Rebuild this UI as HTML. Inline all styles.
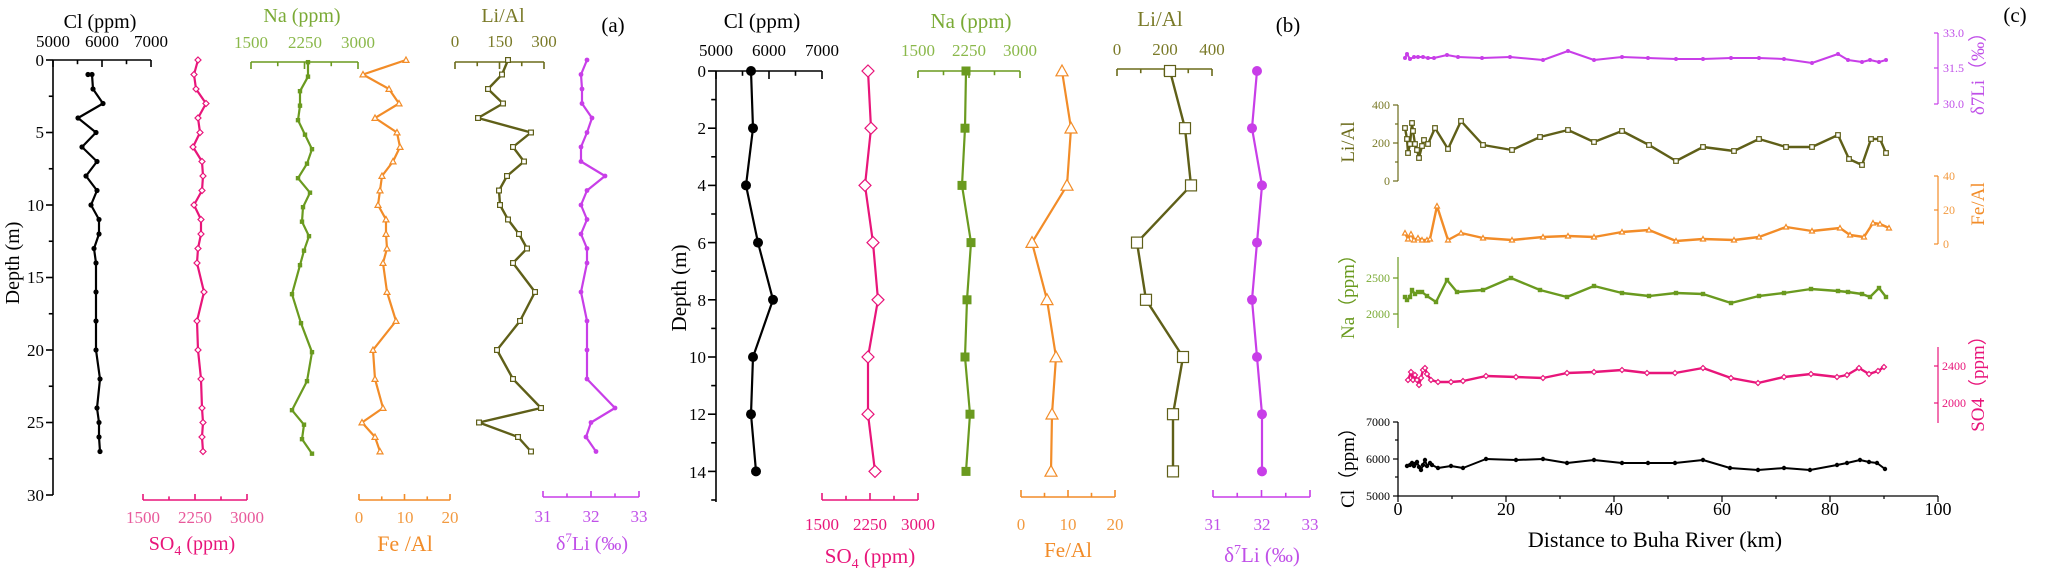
<!DOCTYPE html>
<html><head><meta charset="utf-8"><style>
html,body{margin:0;padding:0;background:#fff;}
svg{display:block;font-family:"Liberation Serif",serif;}
</style></head><body>
<svg id="s" width="2048" height="572" viewBox="0 0 2048 572" xmlns="http://www.w3.org/2000/svg">
<g id="ax" fill="none" stroke-width="1.6"></g>
<g id="data"></g>
<g font-size="17">
<!-- Panel a -->
<text x="100" y="28" text-anchor="middle" font-size="20">Cl (ppm)</text>
<text x="53" y="47" text-anchor="middle">5000</text><text x="102" y="47" text-anchor="middle">6000</text><text x="151" y="47" text-anchor="middle">7000</text>
<g text-anchor="end" font-size="17"><text x="44" y="66">0</text><text x="44" y="138">5</text><text x="44" y="211">10</text><text x="44" y="283">15</text><text x="44" y="356">20</text><text x="44" y="428">25</text><text x="44" y="501">30</text></g>
<text transform="translate(19,263) rotate(-90)" text-anchor="middle" font-size="20">Depth (m)</text>
<g fill="#e8589a" text-anchor="middle"><text x="143" y="523">1500</text><text x="195" y="523">2250</text><text x="247" y="523">3000</text></g>
<text x="192" y="550" text-anchor="middle" font-size="20" fill="#e8157a">SO<tspan font-size="14" dy="5">4</tspan><tspan dy="-5"> (ppm)</tspan></text>
<text x="302" y="22" text-anchor="middle" font-size="20" fill="#7aaa35">Na (ppm)</text>
<g fill="#8ab84a" text-anchor="middle"><text x="251" y="48">1500</text><text x="305" y="48">2250</text><text x="358" y="48">3000</text></g>
<g fill="#f29a40" text-anchor="middle"><text x="359" y="523">0</text><text x="405" y="523">10</text><text x="450" y="523">20</text></g>
<text x="405" y="551" text-anchor="middle" font-size="22" fill="#f28c28">Fe /Al</text>
<text x="503" y="22" text-anchor="middle" font-size="20" fill="#7a7a28">Li/Al</text>
<g fill="#7a7a28" text-anchor="middle"><text x="455" y="47">0</text><text x="500" y="47">150</text><text x="544" y="47">300</text></g>
<g fill="#c050e8" text-anchor="middle"><text x="543" y="522">31</text><text x="591" y="522">32</text><text x="639" y="522">33</text></g>
<text x="592" y="550" text-anchor="middle" font-size="20" fill="#c050e8">δ<tspan font-size="13" dy="-8">7</tspan><tspan dy="8">Li (‰)</tspan></text>
<text x="613" y="32" text-anchor="middle" font-size="21">(a)</text>
<!-- Panel b -->
<text x="762" y="28" text-anchor="middle" font-size="21">Cl (ppm)</text>
<text x="716" y="56" text-anchor="middle">5000</text><text x="769" y="56" text-anchor="middle">6000</text><text x="822" y="56" text-anchor="middle">7000</text>
<g text-anchor="end"><text x="706" y="77">0</text><text x="706" y="134">2</text><text x="706" y="191">4</text><text x="706" y="249">6</text><text x="706" y="306">8</text><text x="706" y="363">10</text><text x="706" y="420">12</text><text x="706" y="478">14</text></g>
<text transform="translate(686,288) rotate(-90)" text-anchor="middle" font-size="21">Depth (m)</text>
<g fill="#e8157a" text-anchor="middle"><text x="822" y="530">1500</text><text x="870" y="530">2250</text><text x="918" y="530">3000</text></g>
<text x="870" y="563" text-anchor="middle" font-size="21" fill="#e8157a">SO<tspan font-size="14" dy="5">4</tspan><tspan dy="-5"> (ppm)</tspan></text>
<text x="971" y="28" text-anchor="middle" font-size="21" fill="#7aaa35">Na (ppm)</text>
<g fill="#8ab84a" text-anchor="middle"><text x="918" y="56">1500</text><text x="969" y="56">2250</text><text x="1020" y="56">3000</text></g>
<g fill="#f29a40" text-anchor="middle"><text x="1021" y="530">0</text><text x="1068" y="530">10</text><text x="1115" y="530">20</text></g>
<text x="1068" y="557" text-anchor="middle" font-size="21" fill="#f28c28">Fe/Al</text>
<text x="1160" y="26" text-anchor="middle" font-size="21" fill="#7a7a28">Li/Al</text>
<g fill="#7a7a28" text-anchor="middle"><text x="1117" y="55">0</text><text x="1165" y="55">200</text><text x="1212" y="55">400</text></g>
<g fill="#c050e8" text-anchor="middle"><text x="1213" y="530">31</text><text x="1262" y="530">32</text><text x="1310" y="530">33</text></g>
<text x="1262" y="562" text-anchor="middle" font-size="21" fill="#c050e8">δ<tspan font-size="14" dy="-8">7</tspan><tspan dy="8">Li (‰)</tspan></text>
<text x="1288" y="32" text-anchor="middle" font-size="21">(b)</text>
<!-- Panel c -->
<text x="2015" y="22" text-anchor="middle" font-size="21">(c)</text>
<g font-size="18" text-anchor="middle"><text x="1398" y="515">0</text><text x="1506" y="515">20</text><text x="1614" y="515">40</text><text x="1722" y="515">60</text><text x="1830" y="515">80</text><text x="1938" y="515">100</text></g>
<text x="1655" y="547" text-anchor="middle" font-size="22">Distance to Buha River (km)</text>
<g font-size="12" text-anchor="end"><text x="1390" y="426">7000</text><text x="1390" y="463">6000</text><text x="1390" y="500">5000</text></g>
<text transform="translate(1354,463) rotate(-90)" text-anchor="middle" font-size="19">Cl（ppm）</text>
<g font-size="12" text-anchor="end" fill="#7aaa35"><text x="1390" y="282">2500</text><text x="1390" y="318">2000</text></g>
<text transform="translate(1354,292) rotate(-90)" text-anchor="middle" font-size="19" fill="#6a9a1f">Na（ppm）</text>
<g font-size="12" text-anchor="end" fill="#7a7a28"><text x="1390" y="109">400</text><text x="1390" y="147">200</text><text x="1390" y="185">0</text></g>
<text transform="translate(1354,142) rotate(-90)" text-anchor="middle" font-size="19" fill="#6b6b1a">Li/Al</text>
<g font-size="12" fill="#c050e8"><text x="1943" y="37">33.0</text><text x="1943" y="72">31.5</text><text x="1943" y="108">30.0</text></g>
<text transform="translate(1984,69) rotate(-90)" text-anchor="middle" font-size="19" fill="#c050e8">δ7Li（‰）</text>
<g font-size="12" fill="#f29a40"><text x="1943" y="180">40</text><text x="1943" y="214">20</text><text x="1943" y="248">0</text></g>
<text transform="translate(1984,204) rotate(-90)" text-anchor="middle" font-size="19" fill="#f28c28">Fe/Al</text>
<g font-size="12" fill="#e8157a"><text x="1942" y="370">2400</text><text x="1942" y="407">2000</text></g>
<text transform="translate(1984,379) rotate(-90)" text-anchor="middle" font-size="19" fill="#e8157a">SO4（ppm）</text>
</g>
</svg>
<script>
var NS="http://www.w3.org/2000/svg",ax=document.getElementById("ax"),dg=document.getElementById("data");
function el(p,t,a){var e=document.createElementNS(NS,t);for(var k in a)e.setAttribute(k,a[k]);p.appendChild(e);return e;}
function ln(x1,y1,x2,y2,c,w){el(ax,"line",{x1:x1,y1:y1,x2:x2,y2:y2,stroke:c,"stroke-width":w||1.6});}
function hax(x0,x1,y,n,dir,c,len){ln(x0,y,x1,y,c);for(var i=0;i<=n;i++){var x=x0+(x1-x0)*i/n;var L=(i==0||i==n||i==n/2)?len:len*0.6;ln(x,y,x,y+dir*L,c);}}
function vax(x,y0,y1,ticks,c,len){ln(x,y0,x,y1,c);ticks.forEach(function(t){ln(x,t[0],x-(t[1]?len:len*0.6),t[0],c);});}
// panel a
hax(53,151,60,4,1,"#000",7);
var t=[];for(var d=0;d<=30;d+=2.5)t.push([60+14.5*d,d%5==0]);vax(53,60,495,t,"#000",7);
hax(143,247,500,4,-1,"#e8157a",6);
hax(251,358,62,4,1,"#6a9a1f",7);
hax(359,450,500,4,-1,"#f28c28",6);
hax(455,544,62,4,1,"#6b6b1a",7);
hax(543,639,497,4,-1,"#c83ee8",6);
// panel b
hax(716,822,71,4,1,"#000",8);
t=[];for(var d=0;d<=15;d++)t.push([71+28.6*d,d%2==0]);vax(716,71,502,t,"#000",8);
hax(822,918,500,4,-1,"#e8157a",7);
hax(918,1020,71,4,1,"#6a9a1f",7);
hax(1021,1115,497,4,-1,"#f28c28",7);
hax(1117,1212,69,4,1,"#6b6b1a",7);
hax(1213,1310,497,4,-1,"#c83ee8",7);
// panel c axes
ln(1398,496,1938,496,"#000",1.3);
for(var k=0;k<=10;k++){var x=1398+54*k;ln(x,496,x,k%2==0?502:499,"#000",1.2);}
ln(1398,422,1398,496,"#000",1.3);[422,459,496].forEach(function(y){ln(1398,y,1393,y,"#000",1.2);});[440,477].forEach(function(y){ln(1398,y,1395,y,"#000",1.2);});
ln(1398,257,1398,328,"#6a9a1f",1.2);[278,314].forEach(function(y){ln(1398,y,1393,y,"#6a9a1f",1.2);});
ln(1398,105,1398,181,"#6b6b1a",1.2);[105,143,181].forEach(function(y){ln(1398,y,1393,y,"#6b6b1a",1.2);});[124,162].forEach(function(y){ln(1398,y,1395,y,"#6b6b1a",1.2);});
ln(1938,33,1938,104,"#c83ee8",1.2);[33,68,104].forEach(function(y){ln(1938,y,1934,y,"#c83ee8",1.2);});
ln(1938,176,1938,244,"#f28c28",1.2);[176,210,244].forEach(function(y){ln(1938,y,1934,y,"#f28c28",1.2);});
ln(1938,347,1938,423,"#e8157a",1.2);[366,403].forEach(function(y){ln(1938,y,1934,y,"#e8157a",1.2);});
function mk(x,y,type,s,c){
 if(type=="c")el(dg,"circle",{cx:x,cy:y,r:s,fill:c});
 else if(type=="sq")el(dg,"rect",{x:x-s,y:y-s,width:2*s,height:2*s,fill:c});
 else if(type=="osq")el(dg,"rect",{x:x-s,y:y-s,width:2*s,height:2*s,fill:"#fff",stroke:c,"stroke-width":1.2});
 else if(type=="dia")el(dg,"polygon",{points:[x,y-s,x+s,y,x,y+s,x-s,y].join(" "),fill:"#fff",stroke:c,"stroke-width":1.2});
 else if(type=="tri")el(dg,"polygon",{points:[x,y-s,x+s,y+s*0.8,x-s,y+s*0.8].join(" "),fill:"#fff",stroke:c,"stroke-width":1.2});
}
function ser(pts,c,w,type,s){el(dg,"polyline",{points:pts.map(function(p){return p.join(",");}).join(" "),fill:"none",stroke:c,"stroke-width":w,"stroke-linejoin":"round"});pts.forEach(function(p){mk(p[0],p[1],type,s,c);});}
function dep(xs,ds,y0,sc){return xs.map(function(x,i){return [x,y0+sc*ds[i]];});}
var D=[0,1,2,3,4,5,6,7,8,9,10,11,12,13,14,16,18,20,22,24,25,26,27];
var A=function(d){return d.map(function(v){return v;});};
// (a) Cl
ser([[88,74.5],[92,74.5]].concat(dep([93,103,78,96,82,97,86,97,91,99,99,94,96,96,96,96,100,97,99,99,100],[2,3,4,5,6,7,8,9,10,11,12,13,14,16,18,20,22,24,25,26,27],60,14.5)),"#000",2.2,"c",2.6);
ser(dep([198,194,196,206,198,200,193,202,203,202,194,201,201,198,197,204,197,198,201,202,203,202,203],D,60,14.5),"#e8157a",2.2,"dia",3);
ser(dep([308,308,300,300,298,305,312,307,298,310,303,302,309,304,300,292,301,312,307,292,304,302,312],D.map(function(d){return d+0.15;}),60,14.5),"#6a9a1f",2.2,"sq",2.2);
ser(dep([406,363,389,399,375,397,400,393,382,380,378,386,386,387,383,387,396,373,375,383,362,375,380],D,60,14.5),"#f28c28",2.2,"tri",3);
ser(dep([508,502,488,503,478,531,513,524,507,499,500,508,519,527,513,535,520,497,513,541,479,518,531],D,60,14.5),"#5f5f18",2.4,"osq",2.4);
ser(dep([587,581,582,582,592,587,581,581,605,587,581,587,581,587,587,581,587,587,587,615,591,586,596],D,60,14.5),"#c83ee8",2.2,"c",2.4);
// (b)
var B=[0,2,4,6,8,10,12,14];
ser(dep([751,753,746,758,773,753,751,756],B,71,28.6),"#000",2.2,"c",5);
ser(dep([868,871,865,873,878,868,868,875],B,71,28.6),"#e8157a",2.2,"dia",6);
ser(dep([966,965,962,971,967,965,970,966],B,71,28.6),"#6a9a1f",2.2,"sq",4.5);
ser(dep([1062,1071,1067,1032,1047,1056,1052,1051],B,71,28.6),"#f28c28",2.2,"tri",6);
ser(dep([1170,1185,1191,1137,1146,1183,1173,1173],B,71,28.6),"#5f5f18",2.4,"osq",5.5);
ser(dep([1257,1252,1262,1257,1252,1257,1262,1262],B,71,28.6),"#c83ee8",2.2,"c",5);
// (c)
ser([[1405,58],[1407,54],[1410,59],[1414,57],[1418,57],[1423,57],[1428,58],[1434,58],[1447,55],[1458,57],[1482,58],[1510,57],[1543,60],[1568,51],[1594,60],[1622,57],[1648,58],[1676,59],[1703,59],[1731,58],[1759,58],[1784,59],[1812,63],[1838,54],[1848,60],[1862,62],[1870,60],[1879,62],[1886,60]],"#c83ee8",2,"c",2);
ser([[1405,128],[1407,139],[1408,153],[1410,144],[1412,123],[1413,131],[1415,144],[1417,150],[1419,158],[1422,146],[1424,140],[1428,144],[1435,128],[1448,149],[1461,121],[1483,145],[1512,150],[1540,137],[1568,130],[1594,142],[1622,131],[1649,145],[1676,161],[1703,147],[1734,151],[1759,139],[1786,147],[1812,147],[1838,135],[1849,159],[1862,165],[1871,139],[1880,139],[1886,153]],"#5f5f18",2.4,"osq",2.3);
ser([[1405,233],[1408,239],[1411,234],[1414,240],[1418,238],[1422,240],[1427,240],[1430,239],[1437,206],[1448,240],[1461,233],[1483,238],[1512,240],[1543,237],[1568,236],[1594,237],[1622,232],[1649,230],[1676,241],[1703,239],[1734,240],[1759,237],[1786,227],[1812,231],[1840,228],[1850,235],[1864,237],[1873,223],[1880,224],[1889,228]],"#f28c28",2.4,"tri",2.5);
ser([[1405,297],[1407,300],[1410,297],[1412,290],[1415,294],[1418,292],[1422,292],[1427,296],[1436,302],[1447,280],[1457,292],[1483,290],[1511,278],[1540,290],[1567,297],[1594,286],[1622,293],[1649,296],[1676,293],[1703,294],[1731,303],[1759,296],[1784,293],[1811,289],[1838,291],[1848,292],[1862,294],[1870,297],[1879,288],[1886,297]],"#6a9a1f",2.4,"sq",2.2);
ser([[1408,380],[1411,372],[1413,380],[1415,375],[1417,380],[1419,385],[1421,378],[1423,370],[1425,368],[1427,374],[1431,380],[1438,382],[1451,382],[1463,381],[1486,376],[1516,377],[1543,378],[1567,373],[1594,372],[1622,370],[1647,373],[1675,373],[1703,368],[1731,378],[1758,383],[1784,377],[1811,374],[1837,377],[1847,375],[1859,368],[1869,374],[1878,371],[1884,367]],"#e8157a",2.4,"dia",2.5);
ser([[1407,466],[1410,465],[1412,463],[1414,466],[1415,464],[1417,462],[1419,467],[1421,470],[1423,465],[1425,460],[1427,466],[1430,463],[1432,465],[1438,468],[1451,466],[1463,468],[1486,459],[1516,460],[1543,459],[1567,463],[1594,460],[1622,463],[1648,463],[1675,463],[1703,460],[1730,468],[1758,470],[1784,468],[1810,470],[1837,465],[1847,463],[1860,460],[1869,462],[1877,463],[1885,469]],"#000",2,"c",2.2);
</script>
</body></html>
